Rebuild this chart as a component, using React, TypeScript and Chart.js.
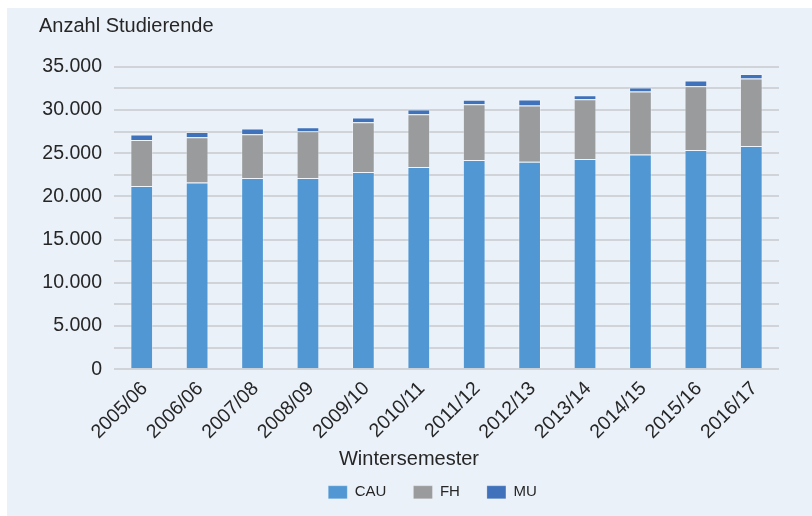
import React, { useEffect, useRef } from "react";
import { Chart, registerables } from "chart.js";

Chart.register(...registerables);

const semesters = [
  "2005/06", "2006/06", "2007/08", "2008/09", "2009/10", "2010/11",
  "2011/12", "2012/13", "2013/14", "2014/15", "2015/16", "2016/17",
];
const cau = [21210, 21600, 22130, 22130, 22830, 23400, 24220, 24020, 24330, 24840, 25370, 25840];
const fh = [5320, 5240, 5060, 5400, 5750, 6100, 6440, 6490, 6910, 7290, 7370, 7790];
const mu = [625, 610, 660, 460, 540, 545, 530, 690, 460, 460, 660, 540];
const seriesNames = ["CAU", "FH", "MU"];
const seriesColors = ["#5097D3", "#999B9C", "#3F72BA"];
const yMax = 35000;
const yStep = 2500;
const yLabelStep = 5000;
const yTitle = "Anzahl Studierende";
const xTitle = "Wintersemester";

const FONT = "'Liberation Sans', Arial, sans-serif";
const TEXT = "#262626";

function fmt(v: number): string {
  const s = Math.round(v).toString();
  return s.replace(/\B(?=(\d{3})+(?!\d))/g, ".");
}

// Shift the legend slightly left, as in the reference layout
const legendShift = {
  id: "legendShift",
  afterLayout(chart: any) {
    const lg = chart.legend;
    if (lg) {
      lg.left -= 14;
      lg.right -= 14;
    }
  },
};

export default function App() {
  const ref = useRef<HTMLCanvasElement | null>(null);

  useEffect(() => {
    if (!ref.current) return;
    const values = [cau, fh, mu];
    const chart = new Chart(ref.current, {
      type: "bar",
      data: {
        labels: semesters,
        datasets: values.map((d, i) => ({
          label: seriesNames[i],
          data: d,
          backgroundColor: seriesColors[i],
          borderColor: "rgba(255,255,255,0.3)",
          borderWidth: { top: 1, left: 1, right: 1, bottom: 0 },
          borderSkipped: false,
          categoryPercentage: 1,
          barPercentage: 0.41,
        })),
      },
      plugins: [legendShift],
      options: {
        responsive: false,
        animation: false,
        layout: { padding: { left: 32, right: 33, top: 0, bottom: 6.2 } },
        scales: {
          x: {
            stacked: true,
            grid: { display: false },
            border: { display: false },
            afterFit: (s: any) => { s.height = 72; },
            ticks: {
              minRotation: 45,
              maxRotation: 45,
              autoSkip: false,
              padding: 0,
              labelOffset: 3,
              color: TEXT,
              font: { family: FONT, size: 19.5 },
            },
          },
          y: {
            stacked: true,
            min: 0,
            max: yMax,
            border: { display: false },
            afterFit: (s: any) => { s.width = 75; },
            grid: { color: "#D0D3D7", lineWidth: 2, drawTicks: false },
            ticks: {
              stepSize: yStep,
              autoSkip: false,
              padding: 12,
              color: TEXT,
              font: { family: FONT, size: 19.5 },
              callback: (v: any) => (Number(v) % yLabelStep === 0 ? fmt(Number(v)) : ""),
            },
          },
        },
        plugins: {
          title: {
            display: true,
            text: yTitle,
            align: "start",
            color: TEXT,
            font: { family: FONT, size: 20, weight: "normal" },
            padding: { top: 6.3, bottom: 28.4 },
          },
          subtitle: {
            display: true,
            text: xTitle,
            position: "bottom",
            weight: 500,
            color: TEXT,
            font: { family: FONT, size: 20, weight: "normal" },
            padding: { top: 6.4, bottom: -13.9 },
          },
          legend: {
            position: "bottom",
            fullSize: false,
            labels: {
              boxWidth: 19,
              boxHeight: 13,
              padding: 27,
              color: TEXT,
              font: { family: FONT, size: 15 },
            },
          },
          tooltip: { enabled: false },
        },
      } as any,
    });
    return () => chart.destroy();
  }, []);

  return (
    <div
      style={{
        position: "absolute",
        left: 7,
        top: 8,
        width: 805,
        height: 508,
        background: "#EAF1F9",
      }}
    >
      <canvas ref={ref} width={805} height={508} />
    </div>
  );
}
